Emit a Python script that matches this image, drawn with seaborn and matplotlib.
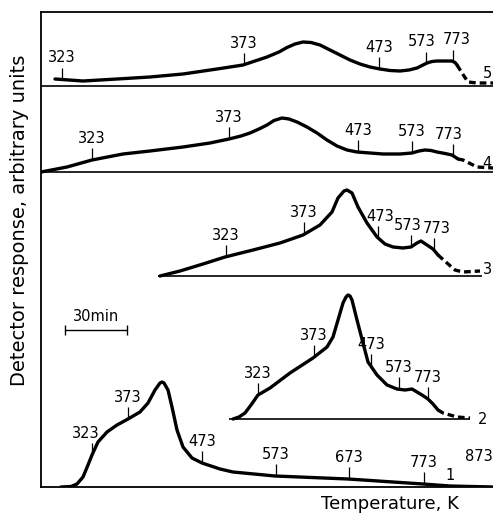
import numpy as np
import pandas as pd
import matplotlib
matplotlib.use("Agg")
import matplotlib.pyplot as plt
import seaborn as sns

# ---------------- data (time axis in arbitrary chart units, response in arbitrary units) -------------
# Curve 5
c5_time = [14, 42, 76, 109, 142, 176, 202, 226, 238, 246, 254, 262, 270, 279, 289, 299, 309, 319, 329, 339,
           349, 359, 368, 376, 381, 386, 391, 396, 404, 411, 414, 416]
c5_resp = [7, 5, 7, 9, 12, 17, 21, 29, 34, 38.5, 42, 44, 43.5, 41, 36, 31, 26, 22, 19, 17,
           15.5, 15, 16, 18, 20.5, 23, 24.5, 25, 25, 25, 23.5, 21]
c5_tail_time = [416, 421, 427, 436, 452]
c5_tail_resp = [21, 13, 4, 3, 3]
c5_mark_time = [21, 203, 338, 385, 412]
c5_mark_temp = ["323", "373", "473", "573", "773"]

# Curve 4
c4_time = [0, 26, 51, 82, 109, 142, 169, 188, 200, 209, 218, 226, 233, 241, 248, 256, 266, 276, 286, 296,
           306, 316, 329, 342, 359, 371, 378, 384, 390, 396, 404, 411, 417]
c4_resp = [0, 5, 12, 18, 21, 25, 29, 33, 36, 39, 43, 47, 51.5, 54, 53, 50, 45, 39, 32, 26,
           22, 20, 19, 18, 18, 19, 21, 22, 21.5, 20, 18.5, 17, 13]
c4_tail_time = [417, 422, 436, 452]
c4_tail_resp = [13, 12, 5, 4]
c4_mark_time = [51, 188, 317, 371, 412]
c4_mark_temp = ["323", "373", "473", "573", "773"]

# Curve 3
c3_time = [119, 139, 162, 184, 212, 239, 262, 279, 291, 297, 303, 306, 311, 317, 326, 336, 344, 352, 362,
           370, 376, 380, 386, 392, 397]
c3_resp = [0, 5, 12, 19, 26, 33, 41, 51, 64, 78, 85, 86, 83, 69, 53, 39, 32, 29, 28,
           29, 33, 35, 31, 27, 21]
c3_tail_time = [397, 406, 414, 422, 439]
c3_tail_resp = [21, 13, 6, 4, 5]
c3_mark_time = [185, 263, 337, 370, 393]
c3_mark_temp = ["323", "373", "473", "573", "773"]

# Curve 2
c2_time = [192, 198, 204, 210, 217, 229, 249, 272, 286, 292, 297, 302, 305, 307, 309, 311, 316, 322, 327,
           336, 346, 356, 364, 371, 381, 387, 392, 397]
c2_resp = [0, 2, 6, 14, 24, 31, 46, 61, 72, 82, 99, 116, 122, 124, 123, 119, 99, 76, 57,
           44, 34, 30, 29, 30, 24, 20, 15, 9]
c2_tail_time = [397, 402, 416, 429]
c2_tail_resp = [9, 6, 2, 1]
c2_mark_time = [217, 273, 330, 358, 387]
c2_mark_temp = ["323", "373", "473", "573", "773"]

# Curve 1
c1_time = [20, 30, 36, 42, 47, 51, 57, 66, 76, 87, 99, 107, 114, 119, 121, 123, 127, 131, 136, 142,
           151, 161, 179, 192, 234, 307, 382, 409, 452]
c1_resp = [0, 0.5, 3, 10, 22, 32, 45, 55, 62, 68, 75, 84, 97, 104, 105, 104, 97, 80, 57, 40,
           29, 24, 18, 15, 11, 8, 3, 1, 0]
c1_mark_time = [51, 87, 161, 235, 308, 383, 452]
c1_mark_temp = ["323", "373", "473", "573", "673", "773", "873"]

# baseline (zero level) of each curve, and extent of the drawn baseline
curve_ids = ["5", "4", "3", "2", "1"]
curve_offset = [401, 315, 211, 68, 0]
base_start = [0, 0, 117, 188, 0]
base_end = [452, 452, 441, 429, 452]
id_time = [446, 446, 447, 442, 409]
id_resp = [12, 9, 6, 0, 12]

scale_bar_minutes = 30
scale_bar_len = 62  # chart units for 30 min

# ---------------- style -------------
sns.set_style("white")
plt.rcParams['font.family'] = ['DejaVu Sans']
plt.rcParams['text.color'] = 'black'

# small horizontal nudges for crowded temperature labels (chart units)
label_nudge = {("5", "573"): -4, ("5", "773"): 4, ("4", "773"): -4,
               ("3", "573"): -3, ("3", "773"): 3, ("3", "473"): 2, ("1", "323"): -6}

W, H = 493, 516
fig = plt.figure(figsize=(W / 100, H / 100), dpi=100)
ax = fig.add_axes([41 / W, 29 / H, 452 / W, 475 / H])
ax.set_xlim(0, 452)
ax.set_ylim(0, 475)
ax.set_xticks([])
ax.set_yticks([])
for s in ["left", "top", "bottom"]:
    ax.spines[s].set_color("black")
    ax.spines[s].set_linewidth(1.3)
ax.spines["right"].set_visible(False)

LW = 2.4
TICK = 12
LBL_FS = 10.5

panels = [
    (c5_time, c5_resp, c5_tail_time, c5_tail_resp, c5_mark_time, c5_mark_temp),
    (c4_time, c4_resp, c4_tail_time, c4_tail_resp, c4_mark_time, c4_mark_temp),
    (c3_time, c3_resp, c3_tail_time, c3_tail_resp, c3_mark_time, c3_mark_temp),
    (c2_time, c2_resp, c2_tail_time, c2_tail_resp, c2_mark_time, c2_mark_temp),
    (c1_time, c1_resp, None, None, c1_mark_time, c1_mark_temp),
]

for i, (t, r, tt, tr, mt, ml) in enumerate(panels):
    off = curve_offset[i]
    cid = curve_ids[i]
    if i < 4:
        ax.hlines(off, base_start[i], base_end[i], color="black", lw=1.2)
    df = pd.DataFrame({"t": t, "r": np.array(r, dtype=float) + off})
    sns.lineplot(data=df, x="t", y="r", ax=ax, color="black", lw=LW,
                 estimator=None, sort=False, solid_capstyle="round", solid_joinstyle="round")
    if tt is not None:
        dft = pd.DataFrame({"t": tt, "r": np.array(tr, dtype=float) + off})
        sns.lineplot(data=dft, x="t", y="r", ax=ax, color="black", lw=LW,
                     estimator=None, sort=False, linestyle=(0, (2.0, 1.2)))
    all_t = list(t) + (list(tt[1:]) if tt is not None else [])
    all_r = list(r) + (list(tr[1:]) if tr is not None else [])
    for x, lab in zip(mt, ml):
        yc = np.interp(x, all_t, all_r) + off
        if lab == "873":
            ax.text(x, yc + 23, lab, ha="right", va="bottom", fontsize=LBL_FS)
            continue
        ax.vlines(x, yc, yc + TICK, color="black", lw=0.9)
        ax.text(x + label_nudge.get((cid, lab), 0), yc + TICK + 2, lab,
                ha="center", va="bottom", fontsize=LBL_FS)
    ax.text(id_time[i], id_resp[i] + off, cid, ha="center", va="center", fontsize=LBL_FS)

# scale bar
sb_x0, sb_y = 24, 157
ax.hlines(sb_y, sb_x0, sb_x0 + scale_bar_len, color="black", lw=1.0)
ax.vlines([sb_x0, sb_x0 + scale_bar_len], sb_y - 5, sb_y + 5, color="black", lw=1.0)
ax.text(sb_x0 + scale_bar_len / 2, sb_y + 6, f"{scale_bar_minutes}min", ha="center", va="bottom",
        fontsize=LBL_FS)

ax.set_xlabel("")
ax.set_ylabel("")
fig.text(20 / W, 1 - 220 / H, "Detector response, arbitrary units", rotation=90,
         ha="center", va="center", fontsize=14)
fig.text(390 / W, 1 - 504 / H, "Temperature, K", ha="center", va="center", fontsize=13)

fig.savefig("out.png", dpi=100)
